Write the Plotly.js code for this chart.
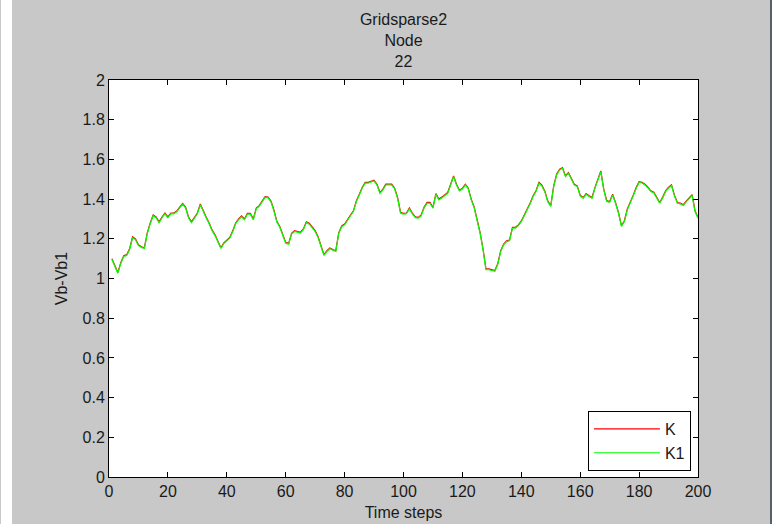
<!DOCTYPE html>
<html>
<head>
<meta charset="utf-8">
<script src="https://cdn.plot.ly/plotly-3.0.1.min.js"></script>
<style>
  html, body { margin: 0; padding: 0; background: #ffffff; }
  #wrap { position: relative; width: 772px; height: 524px; overflow: hidden; }
  #lineL { position: absolute; left: 0; top: 0; width: 1px; height: 524px; background: #c8c8c8; }
  #gray { position: absolute; left: 12px; top: 0; width: 758px; height: 524px; background: #c8c8c8; }
  #lineR { position: absolute; left: 770px; top: 0; width: 2px; height: 524px; background: #5a6068; }
  #chart { position: absolute; left: 0; top: 0; width: 772px; height: 524px; }
</style>
</head>
<body>
<div id="wrap">
  <div id="lineL"></div>
  <div id="gray"></div>
  <div id="lineR"></div>
  <div id="chart"></div>
</div>
<script>
const timeSteps = Array.from({length: 200}, (_, i) => i + 1);

const K = [
  1.100, 1.060, 1.030, 1.080, 1.115, 1.120, 1.150, 1.210, 1.200, 1.170,
  1.160, 1.155, 1.230, 1.280, 1.320, 1.310, 1.285, 1.310, 1.330, 1.310,
  1.330, 1.330, 1.340, 1.360, 1.378, 1.360, 1.310, 1.285, 1.305, 1.330,
  1.375, 1.340, 1.310, 1.280, 1.245, 1.220, 1.190, 1.155, 1.180, 1.195,
  1.207, 1.240, 1.280, 1.300, 1.315, 1.300, 1.328, 1.328, 1.300, 1.355,
  1.367, 1.390, 1.412, 1.410, 1.390, 1.345, 1.288, 1.262, 1.216, 1.182,
  1.177, 1.228, 1.241, 1.238, 1.233, 1.250, 1.286, 1.278, 1.260, 1.241,
  1.210, 1.170, 1.120, 1.140, 1.154, 1.146, 1.140, 1.230, 1.265, 1.274,
  1.300, 1.320, 1.341, 1.392, 1.425, 1.460, 1.484, 1.484, 1.490, 1.495,
  1.475, 1.433, 1.450, 1.475, 1.475, 1.475, 1.455, 1.408, 1.333, 1.328,
  1.330, 1.355, 1.330, 1.310, 1.308, 1.320, 1.360, 1.383, 1.383, 1.358,
  1.428, 1.400, 1.410, 1.420, 1.433, 1.475, 1.517, 1.475, 1.445, 1.455,
  1.475, 1.455, 1.400, 1.360, 1.300, 1.233, 1.150, 1.048, 1.048, 1.045,
  1.040, 1.074, 1.140, 1.174, 1.190, 1.194, 1.258, 1.258, 1.270, 1.290,
  1.320, 1.345, 1.380, 1.417, 1.442, 1.484, 1.470, 1.440, 1.390, 1.367,
  1.467, 1.526, 1.551, 1.559, 1.517, 1.534, 1.500, 1.475, 1.467, 1.420,
  1.408, 1.428, 1.417, 1.408, 1.458, 1.500, 1.542, 1.450, 1.392, 1.388,
  1.425, 1.383, 1.333, 1.266, 1.291, 1.350, 1.390, 1.420, 1.458, 1.488,
  1.485, 1.475, 1.460, 1.442, 1.435, 1.410, 1.383, 1.410, 1.442, 1.460,
  1.472, 1.420, 1.383, 1.380, 1.372, 1.390, 1.408, 1.422, 1.341, 1.308
];

const K1 = [
  1.096, 1.056, 1.026, 1.076, 1.111, 1.116, 1.146, 1.205, 1.195, 1.166,
  1.156, 1.151, 1.226, 1.276, 1.316, 1.306, 1.281, 1.306, 1.326, 1.306,
  1.326, 1.326, 1.336, 1.356, 1.374, 1.356, 1.306, 1.281, 1.301, 1.326,
  1.371, 1.336, 1.306, 1.276, 1.241, 1.216, 1.186, 1.151, 1.176, 1.191,
  1.203, 1.236, 1.276, 1.296, 1.311, 1.296, 1.324, 1.324, 1.296, 1.351,
  1.363, 1.386, 1.408, 1.406, 1.386, 1.341, 1.284, 1.258, 1.212, 1.178,
  1.173, 1.224, 1.237, 1.234, 1.229, 1.246, 1.282, 1.274, 1.256, 1.237,
  1.206, 1.166, 1.116, 1.136, 1.150, 1.142, 1.136, 1.226, 1.261, 1.270,
  1.296, 1.316, 1.337, 1.388, 1.421, 1.456, 1.480, 1.480, 1.486, 1.491,
  1.471, 1.429, 1.446, 1.471, 1.471, 1.471, 1.451, 1.404, 1.329, 1.324,
  1.326, 1.351, 1.326, 1.306, 1.304, 1.316, 1.356, 1.379, 1.379, 1.354,
  1.424, 1.396, 1.406, 1.416, 1.429, 1.471, 1.513, 1.471, 1.441, 1.451,
  1.471, 1.451, 1.396, 1.356, 1.296, 1.229, 1.146, 1.044, 1.044, 1.041,
  1.036, 1.070, 1.136, 1.170, 1.186, 1.190, 1.254, 1.254, 1.266, 1.286,
  1.316, 1.341, 1.376, 1.413, 1.438, 1.480, 1.466, 1.436, 1.386, 1.363,
  1.463, 1.522, 1.547, 1.555, 1.513, 1.530, 1.496, 1.471, 1.463, 1.416,
  1.404, 1.424, 1.413, 1.404, 1.454, 1.496, 1.538, 1.446, 1.388, 1.384,
  1.421, 1.379, 1.329, 1.262, 1.287, 1.346, 1.386, 1.416, 1.454, 1.484,
  1.481, 1.471, 1.456, 1.438, 1.431, 1.406, 1.379, 1.406, 1.438, 1.456,
  1.468, 1.416, 1.379, 1.376, 1.368, 1.386, 1.404, 1.418, 1.337, 1.304
];

const xTicks = [0, 20, 40, 60, 80, 100, 120, 140, 160, 180, 200];
const yTicks = [0, 0.2, 0.4, 0.6, 0.8, 1, 1.2, 1.4, 1.6, 1.8, 2];
const yTickText = ['0', '0.2', '0.4', '0.6', '0.8', '1', '1.2', '1.4', '1.6', '1.8', '2'];

const fontFam = 'Liberation Sans, Arial, sans-serif';
const txtColor = '#1a1a1a';
const fs = 16;

const traces = [
  { x: timeSteps, y: K, name: 'K', type: 'scatter', mode: 'lines',
    line: { color: '#ff0000', width: 1.2 } },
  { x: timeSteps, y: K1, name: 'K1', type: 'scatter', mode: 'lines',
    line: { color: '#00ff00', width: 1.2 } }
];

const axisCommon = {
  showgrid: false, zeroline: false, showline: true, linecolor: '#000', linewidth: 1,
  mirror: 'allticks', ticks: 'inside', ticklen: 5, tickcolor: '#000', tickwidth: 1,
  tickfont: { family: fontFam, size: fs, color: txtColor }
};

const layout = {
  width: 772, height: 524,
  margin: { l: 109, r: 74, t: 80, b: 47, pad: 0 },
  paper_bgcolor: 'rgba(0,0,0,0)',
  plot_bgcolor: '#ffffff',
  showlegend: true,
  title: {
    text: 'Gridsparse2<br>Node<br>22',
    font: { family: fontFam, size: fs, color: txtColor },
    x: 0.5, xref: 'paper', xanchor: 'center',
    y: 1 - 25 / 524, yref: 'container', yanchor: 'top'
  },
  xaxis: Object.assign({}, axisCommon, {
    range: [0, 200], tickvals: xTicks, ticktext: xTicks.map(String),
    title: { text: 'Time steps', font: { family: fontFam, size: fs, color: txtColor }, standoff: 7 }
  }),
  yaxis: Object.assign({}, axisCommon, {
    range: [0, 2], tickvals: yTicks, ticktext: yTickText,
    title: { text: 'Vb-Vb1', font: { family: fontFam, size: fs, color: txtColor }, standoff: 10 }
  }),
  legend: {
    x: 0.988, y: 0.015, xanchor: 'right', yanchor: 'bottom',
    bgcolor: '#ffffff', bordercolor: '#000', borderwidth: 1,
    font: { family: fontFam, size: fs, color: txtColor },
    itemwidth: 66, tracegroupgap: 0
  }
};

Plotly.newPlot('chart', traces, layout, { staticPlot: true, displayModeBar: false });
</script>
</body>
</html>
